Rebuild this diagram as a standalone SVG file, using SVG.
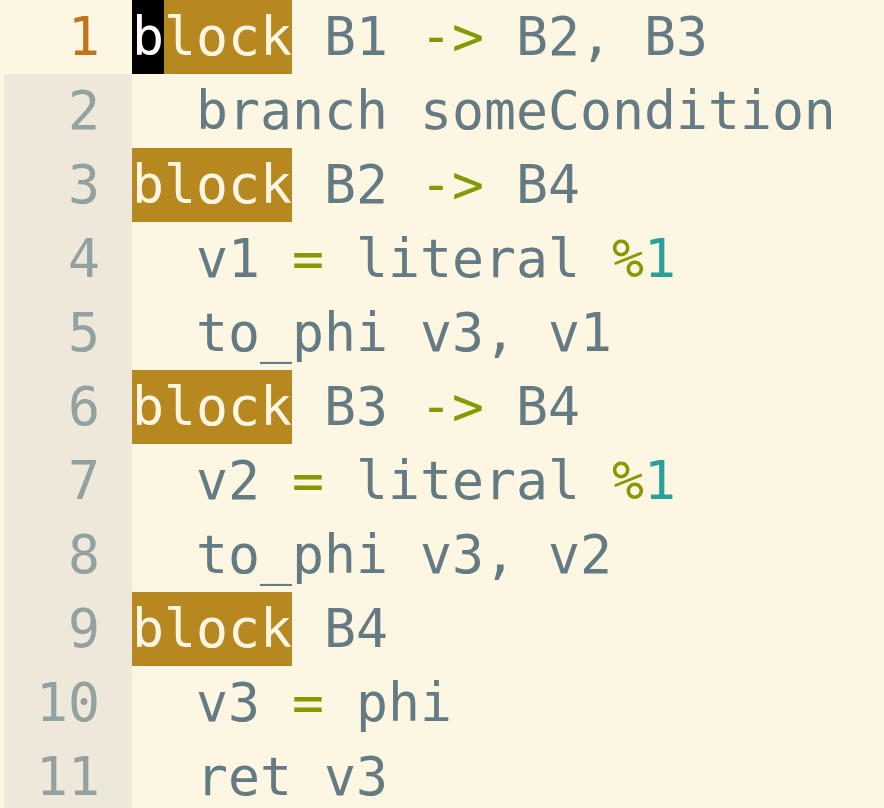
<svg xmlns="http://www.w3.org/2000/svg" width="884" height="808" viewBox="0 0 884 808">
<style>
text{font-family:"DejaVu Sans Mono","Liberation Mono",monospace;font-size:53.15px;white-space:pre}
.c{fill:#657b83}
.ln{fill:#93a1a1;text-anchor:end}
.cur{fill:#c0741c}
.kw{fill:#fdf6e3}
.op{fill:#859900}
.num{fill:#2aa198}
.hl{fill:#b6881f}
</style>
<rect width="884" height="808" fill="#fdf6e3"/>
<rect x="4" y="74" width="128" height="734" fill="#ede8d9"/>
<g id="highlights">
<rect class="hl" x="132" y="0" width="160" height="74"/>
<rect x="132" y="0" width="32" height="74" fill="#000"/>
<rect class="hl" x="132" y="148" width="160" height="74"/>
<rect class="hl" x="132" y="370" width="160" height="74"/>
<rect class="hl" x="132" y="592" width="160" height="74"/>
</g>
<g id="line-numbers">
<text class="ln cur" x="100" y="55">1</text>
<text class="ln" x="100" y="129">2</text>
<text class="ln" x="100" y="203">3</text>
<text class="ln" x="100" y="277">4</text>
<text class="ln" x="100" y="351">5</text>
<text class="ln" x="100" y="425">6</text>
<text class="ln" x="100" y="499">7</text>
<text class="ln" x="100" y="573">8</text>
<text class="ln" x="100" y="647">9</text>
<text class="ln" x="100" y="721">10</text>
<text class="ln" x="100" y="795">11</text>
</g>
<g id="code">
<text x="132" y="55"><tspan fill="#ffffff">b</tspan><tspan class="kw" x="164">lock</tspan><tspan class="c" x="324">B1</tspan><tspan class="op" x="420">-&gt;</tspan><tspan class="c" x="516">B2, B3</tspan></text>
<text class="c" x="196" y="129">branch someCondition</text>
<text x="132" y="203"><tspan class="kw">block</tspan><tspan class="c" x="324">B2</tspan><tspan class="op" x="420">-&gt;</tspan><tspan class="c" x="516">B4</tspan></text>
<text x="196" y="277"><tspan class="c">v1</tspan><tspan class="op" x="292">=</tspan><tspan class="c" x="356">literal</tspan><tspan class="op" x="612">%</tspan><tspan class="num" x="644">1</tspan></text>
<text class="c" x="196" y="351">to_phi v3, v1</text>
<text x="132" y="425"><tspan class="kw">block</tspan><tspan class="c" x="324">B3</tspan><tspan class="op" x="420">-&gt;</tspan><tspan class="c" x="516">B4</tspan></text>
<text x="196" y="499"><tspan class="c">v2</tspan><tspan class="op" x="292">=</tspan><tspan class="c" x="356">literal</tspan><tspan class="op" x="612">%</tspan><tspan class="num" x="644">1</tspan></text>
<text class="c" x="196" y="573">to_phi v3, v2</text>
<text x="132" y="647"><tspan class="kw">block</tspan><tspan class="c" x="324">B4</tspan></text>
<text x="196" y="721"><tspan class="c">v3</tspan><tspan class="op" x="292">=</tspan><tspan class="c" x="356">phi</tspan></text>
<text class="c" x="196" y="795">ret v3</text>
</g>
</svg>
